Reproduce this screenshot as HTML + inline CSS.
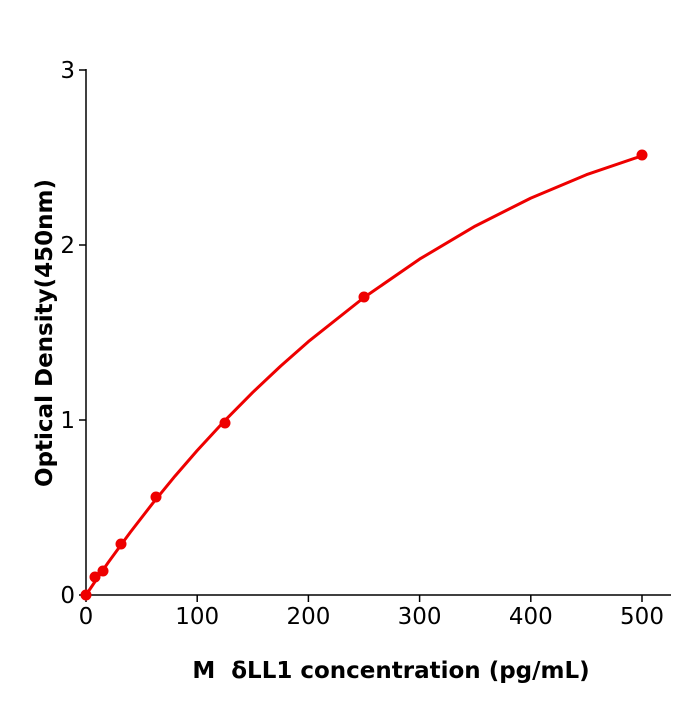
<!DOCTYPE html>
<html><head><style>body{margin:0;background:#fff}</style></head><body>
<svg width="700" height="700" xmlns="http://www.w3.org/2000/svg" font-family="'DejaVu Sans','Liberation Sans',sans-serif">
<rect width="700" height="700" fill="#fff"/>
<g stroke="#000" stroke-width="1.5" fill="none">
<line x1="86" y1="69" x2="86" y2="596"/>
<line x1="85" y1="595" x2="671" y2="595"/>
<line x1="79" y1="595" x2="86" y2="595"/>
<line x1="79" y1="420" x2="86" y2="420"/>
<line x1="79" y1="245" x2="86" y2="245"/>
<line x1="79" y1="70" x2="86" y2="70"/>
<line x1="86" y1="595" x2="86" y2="602"/>
<line x1="197.2" y1="595" x2="197.2" y2="602"/>
<line x1="308.4" y1="595" x2="308.4" y2="602"/>
<line x1="419.6" y1="595" x2="419.6" y2="602"/>
<line x1="530.8" y1="595" x2="530.8" y2="602"/>
<line x1="642" y1="595" x2="642" y2="602"/>
</g>
<g font-size="23" fill="#000" text-anchor="end">
<text x="75" y="603">0</text><text x="75" y="428">1</text><text x="75" y="253">2</text><text x="75" y="78">3</text>
</g>
<g font-size="23" fill="#000" text-anchor="middle">
<text x="86" y="624">0</text><text x="197.2" y="624">100</text><text x="308.4" y="624">200</text><text x="419.6" y="624">300</text><text x="530.8" y="624">400</text><text x="642" y="624">500</text>
</g>
<text x="391" y="678" font-size="23" font-weight="bold" text-anchor="middle">M&#160;&#160;δLL1 concentration (pg/mL)</text>
<text transform="translate(52,333) rotate(-90)" font-size="23" font-weight="bold" text-anchor="middle">Optical Density(450nm)</text>
<polyline points="86,595 97.1,578.5 108.2,562.5 119.4,547.1 130.5,532 152.7,503.3 175,476.1 197.2,450.5 225,420.4 252.8,392.3 280.6,366.1 308.4,341.6 364,297.5 419.6,259.1 475.2,226.1 530.8,198.1 586.4,174.7 642,155.8" stroke="#e00" stroke-width="3" fill="none" stroke-linejoin="round"/>
<g fill="#e00">
<circle cx="86" cy="595" r="5.5"/><circle cx="95" cy="577" r="5.5"/><circle cx="103" cy="571" r="5.5"/><circle cx="121" cy="544" r="5.5"/><circle cx="156" cy="497" r="5.5"/><circle cx="225" cy="423" r="5.5"/><circle cx="364" cy="297" r="5.5"/><circle cx="642" cy="155" r="5.5"/>
</g>
</svg>
</body></html>
